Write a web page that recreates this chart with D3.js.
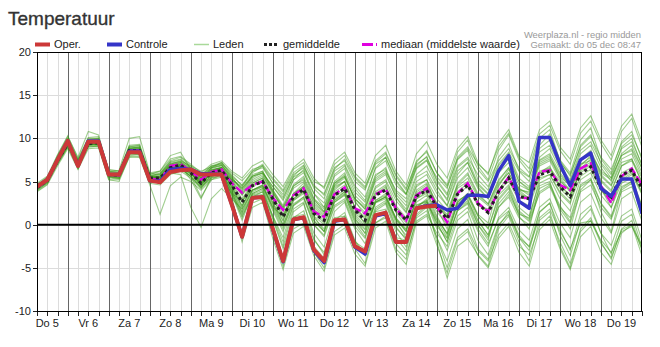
<!DOCTYPE html>
<html><head><meta charset="utf-8">
<script src="https://cdn.jsdelivr.net/npm/d3@7"></script>
<style>
html,body{margin:0;padding:0;background:#fff;}
svg{display:block;font-family:"Liberation Sans",Arial,sans-serif;}
</style></head>
<body>
<svg id="c" width="660" height="347"></svg>
<script>
// ---- data ----
const dayLabels = ["Do 5","Vr 6","Za 7","Zo 8","Ma 9","Di 10","Wo 11","Do 12","Vr 13","Za 14","Zo 15","Ma 16","Di 17","Wo 18","Do 19"];
const yTicks = [-10,-5,0,5,10,15,20];
const startUTC = Date.UTC(2024,11,5,6);   // first value: do 5 dec 06:00, 6-hourly
const endUTC = Date.UTC(2024,11,20,0);

const oper = [4.4,5.2,7.5,9.7,6.8,9.6,9.6,5.8,5.8,8.4,8.4,5.1,
  4.9,6.1,6.3,6.4,5.8,5.8,5.8,2.3,-1.4,3.1,3.2,-0.5,
  -4.2,0.6,0.85,-2.9,-4.2,0.5,0.6,-2.5,-3.1,1.1,1.4,-2.0,
  -2.0,1.9,2.1,2.2];

const controle = [4.4,5.2,7.5,9.7,6.8,9.7,9.7,5.8,5.8,8.5,8.5,5.1,
  5.0,6.4,6.5,6.4,5.9,5.9,5.8,2.3,-1.4,3.1,3.2,-0.6,
  -4.3,0.6,0.8,-3.0,-4.4,0.4,0.6,-2.6,-3.4,1.0,1.3,-2.0,
  -2.0,1.9,2.2,2.3,1.7,1.9,3.4,3.4,3.25,6.2,8.0,2.7,
  1.9,10.1,10.1,7.0,4.5,7.5,8.3,4.2,3.3,5.3,5.3,1.3];

const gemiddelde = [4.3,5.1,7.4,9.4,7.0,9.4,9.5,5.8,5.7,8.6,8.6,5.4,
  5.4,6.6,6.9,6.0,4.8,6.0,6.3,4.6,2.6,4.5,5.0,3.0,
  0.9,3.2,4.1,1.3,0.5,3.4,4.2,1.7,0.5,3.4,4.0,1.7,
  0.55,3.3,4.0,2.0,0.7,3.5,4.6,2.4,1.4,3.8,5.4,3.25,
  3.0,5.75,6.2,4.4,3.25,5.9,6.7,4.2,3.2,5.75,6.3,4.2];

const mediaan = [4.3,5.1,7.5,9.5,7.0,9.5,9.6,5.8,5.7,8.6,8.6,5.3,
  5.2,6.8,7.0,6.2,5.2,6.1,6.4,4.8,3.7,4.6,5.0,3.1,
  1.7,3.4,4.2,1.5,0.9,3.5,4.3,1.9,1.3,3.5,4.1,1.9,
  0.5,3.4,4.2,2.1,0.3,3.6,4.8,2.5,1.5,3.8,5.5,3.1,
  3.1,6.1,6.3,4.6,4.0,6.5,7.1,4.5,2.5,5.6,6.5,4.6];

const leden = [
 [4.2,5.0,7.3,9.5,6.9,9.5,9.6,5.9,5.7,8.3,8.5,5.2, 5.0,6.2,6.4,6.2,5.5,5.6,5.9,2.8,-1.0,3.3,3.5,0.0, -3.8,0.9,1.2,-2.5,-3.9,0.8,1.0,-2.0,-2.8,1.5,1.8,-1.5, -1.8,2.3,2.6,0.5,-1.5,2.4,3.0,0.0,-1.8,2.8,4.2,1.0, -0.5,4.5,5.0,1.5,-0.5,4.0,5.2,1.5,-0.8,4.0,4.8,1.0],
 [4.5,5.3,7.8,9.9,7.3,9.8,9.9,6.0,6.1,9.0,9.2,5.6, 5.8,7.0,7.4,6.8,6.2,6.7,7.1,6.0,5.1,6.4,6.8,5.2, 3.8,6.0,6.9,4.2,3.0,6.2,7.0,4.5,3.2,6.5,7.4,4.6, 3.5,6.8,7.9,5.0,3.4,7.5,8.6,5.2,4.0,7.8,9.4,6.3, 5.5,9.2,10.5,7.5,6.0,9.8,11.2,7.6,6.0,9.6,10.8,7.5],
 [4.3,5.0,7.2,9.1,7.2,9.2,9.3,5.6,5.5,8.7,8.8,5.5, 5.6,6.9,7.1,6.1,4.5,6.2,6.5,4.3,2.0,4.8,5.4,2.5, 0.0,3.0,4.0,0.5,-0.8,2.6,3.5,0.4,-1.0,2.5,3.0,0.2, -1.2,1.8,2.5,-0.5,-3.0,0.5,1.5,-1.8,-3.5,0.0,1.2,-1.5, -2.5,1.5,2.5,-0.5,-3.0,1.2,2.2,-1.0,-2.4,1.0,1.8,-1.8],
 [4.0,4.9,7.6,9.6,6.5,9.3,9.4,5.5,5.4,8.2,8.1,4.9, 5.3,6.5,6.8,5.2,3.0,5.5,6.0,4.0,1.5,4.0,4.6,1.8, -0.5,2.8,3.8,1.5,0.5,4.6,5.6,3.0,1.8,5.2,6.0,3.2, 1.5,4.6,5.2,2.0,-0.5,2.8,3.4,0.5,-1.2,2.0,3.5,1.2, 0.8,5.2,5.8,3.6,2.4,6.8,8.0,5.6,4.5,7.2,7.6,4.8],
 [4.6,5.2,7.0,9.0,7.6,9.0,9.1,5.2,5.0,7.9,7.8,4.6, 1.2,4.5,5.5,5.0,4.0,5.2,5.5,3.6,2.8,4.0,4.4,2.0, 1.0,3.6,4.4,2.2,1.2,4.4,5.0,2.0,0.0,2.8,3.4,0.8, -0.8,3.0,3.6,1.5,0.0,3.6,4.4,2.2,1.8,4.6,6.0,4.0, 3.8,6.2,6.6,5.0,4.0,6.6,7.2,4.5,3.0,5.0,5.8,3.5],
 [4.2,5.1,7.5,9.3,6.7,9.4,9.5,5.8,5.9,8.8,8.7,5.5, 5.4,6.6,6.6,5.9,4.9,5.8,6.1,3.2,-1.5,2.5,3.0,-1.0, -4.8,-0.5,0.2,-3.2,-5.0,-0.8,0.0,-2.8,-4.5,0.2,0.8,-2.8, -4.0,0.8,1.6,-1.5,-4.2,-0.5,0.6,-2.8,-4.0,-0.2,1.5,-1.5, -3.0,1.4,2.5,-1.2,-3.6,0.5,1.8,-1.0,-3.4,0.4,1.2,-2.6],
 [4.4,5.2,7.4,9.4,7.1,9.6,9.7,6.0,5.9,8.9,9.0,5.7, 5.9,7.3,7.6,6.6,5.6,6.8,7.0,5.4,4.0,5.6,6.0,4.4, 2.8,5.2,6.0,3.6,2.5,5.6,6.5,3.8,2.6,5.8,6.4,3.5, 2.2,5.5,6.2,4.0,2.2,5.8,7.2,4.6,3.5,6.4,8.0,5.0, 4.2,7.5,8.2,6.0,4.6,7.6,8.6,6.0,5.2,8.2,9.2,6.5],
 [4.3,5.1,7.6,9.8,7.0,9.7,9.5,5.7,5.6,8.5,8.5,5.3, 5.5,6.8,7.2,6.2,5.0,6.3,6.6,5.0,3.5,5.2,5.8,3.6, 2.0,4.5,5.2,2.6,1.5,4.5,5.4,3.0,2.0,5.4,6.2,4.0, 3.0,6.5,7.4,5.5,4.2,7.8,9.0,7.0,6.0,9.0,10.6,7.8, 6.5,10.5,11.5,8.6,7.0,10.6,12.0,9.4,7.5,10.8,12.3,9.0],
 [4.4,5.4,8.0,10.2,7.8,10.8,10.4,6.2,6.3,10.0,10.2,6.0, 6.2,8.0,8.4,6.4,5.0,6.6,7.2,5.8,4.5,6.0,6.8,4.8, 3.2,5.5,6.2,3.0,1.5,4.8,5.8,2.8,1.0,4.2,5.0,2.2, 0.8,4.0,4.8,2.5,1.0,4.8,6.0,3.6,2.4,5.2,6.6,4.0, 3.0,6.0,6.8,4.2,3.0,6.5,7.6,5.0,3.8,6.8,7.6,5.4],
 [4.1,4.8,7.2,9.2,6.8,9.2,9.4,5.6,5.5,8.4,8.3,5.1, 5.2,6.3,6.6,5.6,3.2,5.2,5.8,3.5,0.5,3.5,4.0,0.8, -2.5,1.5,2.4,-1.0,-2.6,1.5,2.6,-0.5,-2.2,1.6,2.4,-0.8, -2.6,1.0,2.0,-1.5,-5.0,-1.5,-0.5,-3.0,-4.2,-1.2,0.2,-2.5, -3.5,-0.2,1.0,-2.0,-4.5,-0.8,0.5,-2.2,-3.8,-0.6,0.0,-2.8],
 [4.3,5.2,7.5,9.5,7.1,9.5,9.5,5.8,5.8,8.7,8.6,5.4, 5.6,6.8,7.0,6.2,5.3,6.4,6.6,4.8,3.0,4.8,5.4,3.4, 1.2,3.5,4.5,1.8,0.8,3.8,4.6,2.0,0.6,3.6,4.4,2.0, 0.6,3.6,4.4,2.2,0.8,3.8,4.8,2.6,1.5,4.0,5.6,3.5, 3.2,6.0,6.5,4.6,3.4,6.2,7.0,4.5,3.4,6.0,6.6,4.4],
 [4.2,5.0,7.3,9.3,6.9,9.3,9.3,5.7,5.6,8.5,8.4,5.2, 5.0,6.0,5.8,2.0,-0.3,3.0,4.2,3.0,1.8,4.0,4.5,2.2, 0.0,2.8,3.6,0.8,-0.5,2.8,3.6,1.0,-0.5,2.6,3.2,0.5, -1.5,2.0,2.8,0.2,-2.0,1.6,2.6,0.0,-1.5,2.0,3.2,0.8, 0.0,3.8,4.6,2.0,0.8,4.6,5.4,2.5,1.0,4.2,5.0,2.0],
 [4.5,5.3,7.6,9.6,7.2,9.6,9.7,6.0,5.8,8.8,8.9,5.7, 5.8,7.1,7.3,6.5,5.7,6.6,6.9,5.6,4.6,6.2,6.6,4.8, 3.5,5.8,6.6,4.4,3.6,6.6,7.4,5.0,4.0,7.0,7.8,5.2, 3.6,6.6,7.5,4.6,2.8,6.2,7.2,4.4,3.0,6.4,7.6,5.0, 4.0,7.0,7.6,5.5,4.6,7.4,8.2,6.2,5.4,8.0,8.8,6.5],
 [4.3,5.0,7.4,9.4,6.9,9.4,9.5,5.8,5.7,8.5,8.6,5.3, 5.3,6.4,6.7,5.8,4.6,5.6,6.0,3.8,0.8,3.6,4.2,1.0, -2.0,1.8,2.6,-1.6,-3.5,0.5,1.4,-1.8,-3.5,0.8,1.6,-1.5, -3.0,1.2,2.2,-2.0,-6.2,-2.5,-1.6,-3.5,-4.8,-0.5,1.0,-2.0, -4.2,0.5,1.5,-2.5,-5.0,-0.5,0.8,-2.0,-4.0,-0.5,0.5,-3.0],
 [4.4,5.1,7.3,9.3,7.0,9.3,9.4,5.9,5.8,8.6,8.7,5.5, 5.5,6.6,6.9,6.2,5.2,6.2,6.5,5.2,4.2,5.8,6.2,4.0, 2.2,5.2,6.4,3.6,2.0,5.8,6.8,4.2,2.8,6.6,7.8,5.0, 3.5,7.2,8.6,6.0,4.6,8.4,9.8,6.8,5.2,8.6,10.4,7.5, 6.0,10.0,11.0,7.4,5.6,9.2,10.4,7.0,5.4,9.0,10.0,6.8],
 [4.2,5.1,7.5,9.5,7.1,9.5,9.5,5.7,5.6,8.6,8.6,5.4, 5.4,6.7,7.0,6.0,4.6,6.0,6.4,4.4,2.2,4.4,5.0,2.6, 0.5,3.4,4.4,1.0,-0.8,2.8,3.8,0.8,-1.0,2.8,3.6,0.6, -0.8,3.0,3.8,1.0,-1.2,2.4,3.4,1.0,-0.5,3.4,4.6,2.0, 1.0,4.8,5.4,3.0,1.6,5.2,6.0,3.4,2.0,5.4,6.2,3.6],
 [4.3,5.1,7.4,9.4,7.0,9.4,9.5,5.8,5.7,8.6,8.5,5.4, 5.5,6.8,7.0,6.0,4.8,6.0,6.2,4.6,2.8,4.6,5.0,3.0, 1.0,3.0,3.8,1.0,0.0,3.0,3.8,1.2,-0.2,2.6,3.2,0.8, -0.5,2.2,2.8,-0.2,-1.6,1.6,2.4,-0.5,-2.2,0.6,1.6,-1.2, -2.6,0.8,1.8,-0.8,-2.8,0.2,0.4,-1.8,-3.2,-0.8,-0.2,-2.4],
 [4.4,5.2,7.5,9.4,7.0,9.5,9.6,5.9,5.8,8.7,8.7,5.5, 5.7,7.0,7.3,6.4,5.4,6.5,6.8,5.4,4.2,5.6,6.0,4.4, 3.0,5.6,6.8,4.6,3.4,6.4,7.6,5.4,4.2,7.4,8.4,5.8, 4.2,7.0,7.8,5.2,3.6,6.8,7.8,5.8,4.4,7.0,8.4,6.2, 5.0,8.4,9.2,6.8,5.2,8.6,9.6,7.2,5.8,8.8,9.6,7.0],
 [4.3,5.0,7.2,9.2,7.1,9.3,9.4,5.8,5.7,8.6,8.7,5.6, 5.6,6.4,6.6,5.6,4.2,5.8,6.2,4.0,1.8,3.8,4.4,2.0, -0.2,2.4,3.2,0.4,-0.8,2.6,3.4,0.6,-0.6,2.6,3.2,0.6, -0.6,3.2,4.0,2.4,1.2,4.4,5.4,3.2,2.2,4.8,6.0,3.8, 2.8,5.6,6.4,4.4,3.4,6.0,6.8,4.0,2.6,5.2,6.0,3.8],
 [4.2,5.1,7.4,9.4,6.9,9.4,9.5,5.8,5.8,8.6,8.6,5.4, 5.3,6.5,6.8,5.9,4.8,5.9,6.2,3.8,1.2,3.4,3.8,0.6, -2.8,0.8,1.6,-1.8,-3.2,0.2,1.0,-2.0,-3.6,0.2,1.0,-2.2, -3.5,0.4,1.2,-1.0,-2.5,1.0,2.0,-0.8,-2.5,0.8,2.0,-0.6, -1.8,2.0,3.0,0.2,-1.5,2.6,3.6,0.8,-1.0,3.0,3.8,0.4],
 [4.4,5.2,7.6,9.6,7.2,9.6,9.6,5.9,5.8,8.7,8.8,5.5, 5.6,6.9,7.2,6.3,5.1,6.3,6.6,5.0,3.4,5.0,5.6,3.8, 1.8,4.2,5.0,2.4,1.4,4.2,5.0,2.6,1.4,4.4,5.2,2.8, 1.4,4.4,5.2,3.0,1.6,4.6,5.8,3.4,2.4,5.0,6.6,4.2, 3.6,6.8,7.4,5.2,3.8,7.0,7.8,5.2,4.0,6.8,7.4,5.0],
 [4.3,5.2,7.4,9.3,7.0,9.6,9.6,5.9,5.8,8.5,8.6,5.3, 5.4,6.6,6.9,6.2,5.4,6.3,6.6,5.2,4.4,6.2,7.0,5.4, 4.0,6.4,7.2,5.0,4.4,7.4,8.4,6.0,4.8,8.0,9.2,6.2, 4.6,8.2,9.6,7.0,5.4,8.8,10.2,7.2,5.8,9.4,11.0,8.0, 7.2,11.0,12.0,9.0,7.6,11.2,12.6,9.8,8.0,11.4,12.8,9.6],
 [4.3,5.0,7.3,9.2,7.3,9.2,9.3,5.6,5.4,8.8,9.0,5.6, 5.4,6.6,6.8,6.0,5.0,6.2,6.6,4.2,2.2,4.0,4.6,2.4, 0.4,3.6,4.8,2.0,1.0,4.0,5.0,2.0,0.8,3.8,4.6,1.4, -0.2,2.6,3.4,0.8,-1.0,2.6,3.6,1.2,0.2,4.4,6.4,4.2, 3.4,7.4,8.0,5.4,4.0,7.0,7.4,4.2,2.0,4.8,5.4,2.2],
 [4.2,5.0,7.4,9.5,7.0,9.3,9.4,5.7,5.7,8.5,8.6,5.3, 5.4,6.5,6.8,6.0,4.7,5.9,6.3,4.4,2.6,4.6,5.2,3.0, 0.8,3.4,4.2,1.4,0.2,3.2,4.0,1.4,0.2,3.4,4.2,1.6, 0.2,3.8,4.6,2.4,0.8,4.2,5.0,2.6,1.4,4.0,5.0,2.8, 2.2,5.4,5.8,3.8,2.6,5.6,6.4,4.0,3.0,5.6,6.4,4.2],
 [4.8,5.6,8.1,10.3,7.6,10.1,10.2,6.4,6.2,9.2,9.3,5.9, 6.0,7.4,7.8,6.8,5.8,6.8,7.2,5.6,3.8,5.6,6.2,4.0, 2.0,4.6,5.6,3.0,2.0,5.0,6.0,3.4,2.2,5.6,6.6,3.8, 2.6,5.8,6.8,4.4,3.0,6.6,7.6,4.8,3.6,6.8,8.2,5.4, 4.4,7.8,8.8,6.4,5.0,8.2,9.2,6.6,5.0,8.0,8.6,6.0],
 [3.8,4.6,6.8,8.8,6.4,8.8,8.9,5.2,5.2,7.8,7.9,4.8, 4.6,5.8,6.2,5.4,4.2,5.4,5.8,3.4,1.0,3.2,3.8,1.0, -1.5,2.2,3.2,0.0,-1.2,2.2,3.0,0.2,-1.4,2.0,2.8,-0.2, -1.8,1.6,2.6,0.2,-2.0,1.8,2.8,0.4,-1.2,2.4,3.8,1.4, 0.4,3.6,4.4,1.8,0.2,3.8,4.6,2.0,0.6,3.8,4.4,1.6],
 [4.6,5.4,7.9,10.0,7.5,10.0,10.0,6.2,6.0,9.1,9.1,5.8, 6.2,7.6,7.9,7.0,6.0,7.0,7.4,6.2,5.4,6.8,7.4,5.8, 4.4,6.6,7.6,5.4,4.2,7.0,8.0,5.6,4.4,7.2,8.2,5.6, 4.0,7.4,8.4,6.0,4.4,7.6,8.8,6.4,5.0,7.4,8.8,6.6, 5.6,8.8,9.8,7.2,5.8,9.0,10.2,7.8,6.4,9.4,10.4,7.8],
 [3.9,4.7,7.0,9.0,6.5,9.0,9.1,5.4,5.3,8.0,8.1,5.0, 5.0,6.0,6.4,5.6,4.4,5.4,5.6,2.4,-2.0,2.0,2.6,-1.6, -5.2,-1.0,-0.2,-3.6,-5.4,-1.2,-0.4,-3.4,-4.8,-0.4,0.4,-3.2, -4.6,0.2,1.0,-2.4,-5.6,-1.8,-0.8,-3.6,-5.0,-1.6,-0.2,-3.2, -4.8,-0.6,0.6,-2.8,-5.2,-1.4,-0.2,-3.2,-4.6,-1.0,0.0,-3.6],
 [4.6,5.5,7.8,9.9,7.4,9.9,10.0,6.2,6.1,9.0,8.9,5.7, 5.9,7.2,7.5,6.6,5.4,6.6,6.9,5.2,3.6,5.4,6.0,3.8, 1.6,4.4,5.4,2.8,1.8,4.8,5.6,3.0,1.8,5.0,5.8,3.2, 1.8,5.0,5.8,3.6,2.2,5.4,6.6,4.2,3.0,6.0,7.2,4.6, 4.0,7.2,7.8,5.8,4.4,7.6,8.4,5.8,4.6,7.6,8.2,5.6],
 [4.0,4.8,7.1,9.1,6.6,9.1,9.2,5.5,5.4,8.2,8.2,5.0, 5.1,6.2,6.5,5.6,4.4,5.6,6.0,3.6,1.4,3.6,4.2,1.6, -0.8,2.2,3.0,0.0,-1.4,2.0,2.8,-0.2,-1.6,1.8,2.6,-0.4, -1.6,2.0,3.0,0.6,-1.0,2.6,3.6,1.0,-0.4,3.0,4.4,1.6, 0.6,4.2,4.8,2.2,0.4,4.4,5.2,2.4,0.8,4.4,5.0,2.2]
];

// ---- layout ----
const svg = d3.select("#c");
const L = 37, R = 642, T = 52, B = 311;
const x = d3.scaleUtc().domain([new Date(startUTC), new Date(endUTC)]).range([L, R]);
const y = d3.scaleLinear().domain([-10, 20]).range([B, T]);
const tAt = i => new Date(startUTC + i * 6 * 3600e3);

// title
svg.append("text").attr("x", 8).attr("y", 25).attr("font-size", 19).attr("fill", "#333")
  .attr("stroke", "#333").attr("stroke-width", 0.35).text("Temperatuur");

// source text
svg.append("text").attr("x", 641).attr("y", 37.5).attr("text-anchor", "end").attr("font-size", 9.4).attr("fill", "#999").text("Weerplaza.nl - regio midden");
svg.append("text").attr("x", 641).attr("y", 47.5).attr("text-anchor", "end").attr("font-size", 9.4).attr("fill", "#999").text("Gemaakt: do 05 dec 08:47");

// horizontal grid
const g = svg.append("g");
g.selectAll("line.h").data(yTicks.filter(v => v > -10 && v < 20)).join("line")
  .attr("x1", L).attr("x2", R).attr("y1", d => Math.round(y(d)) + 0.5).attr("y2", d => Math.round(y(d)) + 0.5)
  .attr("stroke", "#dcdcdc").attr("stroke-width", 1);

// vertical 6h grid
const sixH = d3.utcHour.every(6).range(new Date(startUTC), new Date(endUTC + 1));
const days = d3.utcDay.range(new Date(Date.UTC(2024,11,6)), new Date(endUTC));
g.selectAll("line.v").data(sixH.filter(d => d.getUTCHours() !== 0)).join("line")
  .attr("x1", d => Math.round(x(d)) + 0.5).attr("x2", d => Math.round(x(d)) + 0.5)
  .attr("y1", T).attr("y2", B).attr("stroke", "#dcdcdc");
g.selectAll("line.d").data(days).join("line")
  .attr("x1", d => Math.round(x(d)) + 0.5).attr("x2", d => Math.round(x(d)) + 0.5)
  .attr("y1", T).attr("y2", B).attr("stroke", "#666");

// x ticks below
svg.append("g").selectAll("line").data(sixH).join("line")
  .attr("x1", d => Math.round(x(d)) + 0.5).attr("x2", d => Math.round(x(d)) + 0.5)
  .attr("y1", B).attr("y2", B + 5).attr("stroke", "#222");

// day labels
svg.append("g").selectAll("text").data(dayLabels).join("text")
  .attr("x", (d, i) => x(new Date(Date.UTC(2024, 11, 5 + i, 12))))
  .attr("y", 327).attr("text-anchor", "middle").attr("font-size", 11).attr("fill", "#222").text(d => d);

// y ticks + labels
svg.append("g").selectAll("line").data(yTicks).join("line")
  .attr("x1", L - 4).attr("x2", L).attr("y1", d => Math.round(y(d)) + 0.5).attr("y2", d => Math.round(y(d)) + 0.5).attr("stroke", "#222");
svg.append("g").selectAll("text").data(yTicks).join("text")
  .attr("x", 31).attr("y", d => y(d) + 4).attr("text-anchor", "end").attr("font-size", 11).attr("fill", "#222").text(d => d);

// lines
const line = d3.line().x((d, i) => x(tAt(i))).y(d => y(d));
svg.append("clipPath").attr("id", "pc").append("rect").attr("x", L).attr("y", T).attr("width", R - L).attr("height", B - T);
const p = svg.append("g").attr("clip-path", "url(#pc)");
p.selectAll("path.m").data(leden).join("path").attr("d", line)
  .attr("fill", "none").attr("stroke", "#3a9818").attr("stroke-opacity", 0.48).attr("stroke-width", 1.1);

// zero line
svg.append("line").attr("x1", L).attr("x2", R).attr("y1", y(0)).attr("y2", y(0)).attr("stroke", "#000").attr("stroke-width", 2);

p.append("path").attr("d", line(mediaan)).attr("fill", "none").attr("stroke", "#e000e0").attr("stroke-width", 2.5).attr("stroke-dasharray", "9,3");
p.append("path").attr("d", line(gemiddelde)).attr("fill", "none").attr("stroke", "#222").attr("stroke-width", 3).attr("stroke-dasharray", "3,3");
p.append("path").attr("d", line(controle)).attr("fill", "none").attr("stroke", "#3535c8").attr("stroke-width", 3.5).attr("stroke-linejoin", "round");
p.append("path").attr("d", line(oper)).attr("fill", "none").attr("stroke", "#cc3838").attr("stroke-width", 4).attr("stroke-linejoin", "round");

// frame
svg.append("rect").attr("x", L + 0.5).attr("y", T + 0.5).attr("width", R - L - 1).attr("height", B - T).attr("fill", "none").attr("stroke", "#000").attr("stroke-width", 1);

// legend
const leg = svg.append("g").attr("font-size", 11).attr("fill", "#222");
const items = [
  {x: 35, label: "Oper.", stroke: "#cc3838", w: 4, dash: null},
  {x: 107, label: "Controle", stroke: "#3535c8", w: 4, dash: null},
  {x: 194, label: "Leden", stroke: "#a9d99a", w: 1.5, dash: null},
  {x: 264, label: "gemiddelde", stroke: "#222", w: 3, dash: "3,2"},
  {x: 362, label: "mediaan (middelste waarde)", stroke: "#e000e0", w: 3, dash: "11,3,2,3"}
];
items.forEach(it => {
  leg.append("line").attr("x1", it.x).attr("x2", it.x + 15).attr("y1", 44.5).attr("y2", 44.5)
    .attr("stroke", it.stroke).attr("stroke-width", it.w).attr("stroke-dasharray", it.dash);
  leg.append("text").attr("x", it.x + 19).attr("y", 48).text(it.label);
});
</script>
</body></html>
